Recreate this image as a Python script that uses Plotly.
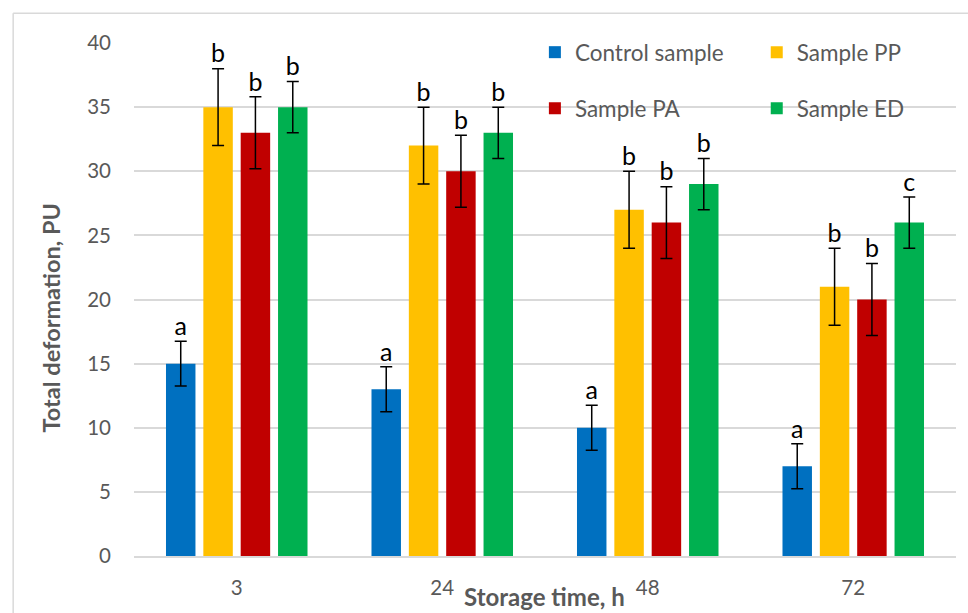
import plotly.graph_objects as go

categories = ["3", "24", "48", "72"]
series_names = ["Control sample", "Sample PP", "Sample PA", "Sample ED"]
control = [15, 13, 10, 7]
sample_pp = [35, 32, 27, 21]
sample_pa = [33, 30, 26, 20]
sample_ed = [35, 33, 29, 26]
err_control = [1.75, 1.75, 1.75, 1.75]
err_pp = [3, 3, 3, 3]
err_pa = [2.8, 2.8, 2.8, 2.8]
err_ed = [2, 2, 2, 2]
letters_control = ["a", "a", "a", "a"]
letters_pp = ["b", "b", "b", "b"]
letters_pa = ["b", "b", "b", "b"]
letters_ed = ["b", "b", "b", "c"]
y_ticks = [0, 5, 10, 15, 20, 25, 30, 35, 40]

colors = ["#0070C0", "#FFC000", "#C00000", "#00B050"]
values = [control, sample_pp, sample_pa, sample_ed]
errors = [err_control, err_pp, err_pa, err_ed]
letters = [letters_control, letters_pp, letters_pa, letters_ed]
legend_ids = ["legend", "legend2", "legend3", "legend4"]
legend_pos = [(0.4877, 0.9814), (0.7576, 0.9814), (0.4877, 0.872), (0.7576, 0.872)]

FONT = "Lato"
GREY = "#595959"

fig = go.Figure()
for i, (name, vals, errs, col, lg) in enumerate(zip(series_names, values, errors, colors, legend_ids)):
    fig.add_trace(go.Bar(
        x=categories, y=vals, name=name, marker_color=col,
        marker_line_width=0, legend=lg, offsetgroup=str(i),
        error_y=dict(type="data", array=errs, visible=True, color="black",
                     thickness=1.5, width=6),
    ))

for i, (vals, errs, lets) in enumerate(zip(values, errors, letters)):
    fig.add_trace(go.Scatter(
        x=categories, y=[v + e for v, e in zip(vals, errs)], text=lets,
        mode="text", textposition="top center",
        textfont=dict(family=FONT, size=25, color="black"),
        showlegend=False, hoverinfo="skip", offsetgroup=str(i),
    ))

legend_layout = {}
for lg, (lx, ly) in zip(legend_ids, legend_pos):
    legend_layout[lg] = dict(x=lx, xanchor="left", y=ly, yanchor="middle",
                             bgcolor="rgba(0,0,0,0)", itemwidth=30,
                             font=dict(size=22.5, color=GREY, family=FONT))

fig.update_layout(
    width=968, height=613,
    margin=dict(l=134, r=12, t=43, b=57, autoexpand=False),
    paper_bgcolor="white", plot_bgcolor="white",
    barmode="group", bargap=0.273, bargroupgap=0.211,
    scattermode="group", scattergap=0.273,
    font=dict(family=FONT, color=GREY),
    xaxis=dict(type="category", showgrid=False, showline=True, linecolor="#D9D9D9",
               linewidth=1.5, ticks="", tickfont=dict(size=20.5, color=GREY),
               ticklabelstandoff=13, automargin=False),
    yaxis=dict(range=[0, 40], tickvals=y_ticks, showgrid=True, gridcolor="#D9D9D9",
               gridwidth=1.5, zeroline=False, showline=False, ticks="",
               tickfont=dict(size=20.5, color=GREY), ticklabelstandoff=22, automargin=False),
    annotations=[
        dict(text="<b>Storage time, h</b>", xref="paper", yref="paper", x=0.4992, y=-0.079,
             xanchor="center", yanchor="middle", showarrow=False,
             font=dict(size=24, color=GREY, family=FONT)),
        dict(text="<b>Total deformation, PU</b>", xref="paper", yref="paper", x=-0.101, y=0.465,
             xanchor="center", yanchor="middle", showarrow=False, textangle=-90,
             font=dict(size=23.5, color=GREY, family=FONT)),
    ],
    shapes=[
        dict(type="line", xref="paper", yref="paper", x0=-0.147, x1=-0.147, y0=1.058, y1=-0.2,
             line=dict(color="#D9D9D9", width=1.5)),
        dict(type="line", xref="paper", yref="paper", x0=-0.147, x1=1.1, y0=1.058, y1=1.058,
             line=dict(color="#D9D9D9", width=1.5)),
    ],
    **legend_layout,
)

fig.write_html("out.html")
